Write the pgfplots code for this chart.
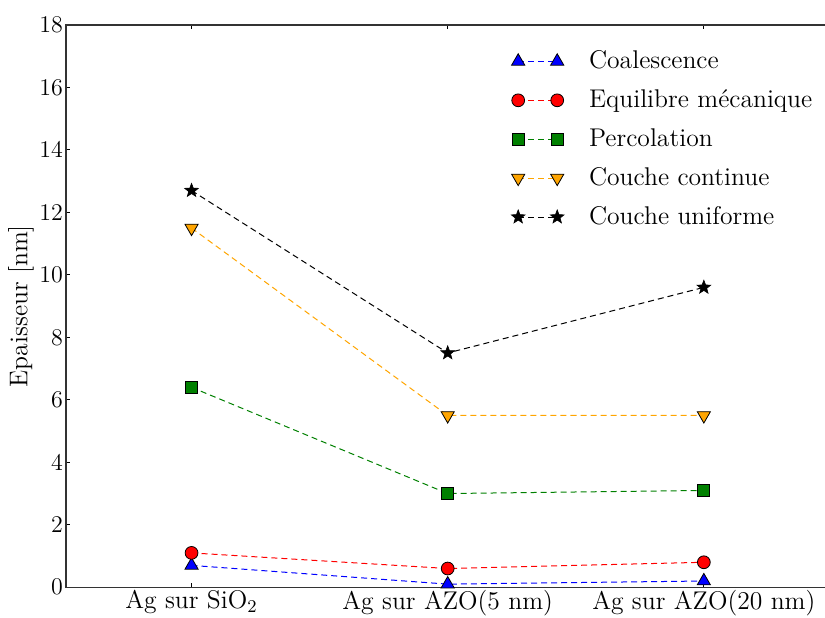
\documentclass[border=0pt]{standalone}
\usepackage{pgfplots}
\pgfplotsset{compat=1.18}
\definecolor{mgreen}{rgb}{0,0.5,0}
\definecolor{morange}{rgb}{1,0.647,0}
\pgfdeclareplotmark{fstar}{%
  \pgfpathmoveto{\pgfqpointpolar{90}{\pgfplotmarksize}}%
  \pgfpathlineto{\pgfqpointpolar{126}{0.42\pgfplotmarksize}}%
  \pgfpathlineto{\pgfqpointpolar{162}{\pgfplotmarksize}}%
  \pgfpathlineto{\pgfqpointpolar{198}{0.42\pgfplotmarksize}}%
  \pgfpathlineto{\pgfqpointpolar{234}{\pgfplotmarksize}}%
  \pgfpathlineto{\pgfqpointpolar{270}{0.42\pgfplotmarksize}}%
  \pgfpathlineto{\pgfqpointpolar{306}{\pgfplotmarksize}}%
  \pgfpathlineto{\pgfqpointpolar{342}{0.42\pgfplotmarksize}}%
  \pgfpathlineto{\pgfqpointpolar{18}{\pgfplotmarksize}}%
  \pgfpathlineto{\pgfqpointpolar{54}{0.42\pgfplotmarksize}}%
  \pgfpathclose
  \pgfusepathqfillstroke}
\begin{document}
\begin{tikzpicture}[font=\fontsize{12.8}{15}\selectfont]
\begin{axis}[
  name=main,
  scale only axis,
  width=381.5pt, height=281pt,
  xmin=-0.49, xmax=2.49,
  ymin=0, ymax=18,
  ytick={0,2,...,18},
  xtick={0,1,2},
  xticklabels={Ag sur SiO$_2$, Ag sur AZO(5 nm), Ag sur AZO(20 nm)},
  tick align=inside,
  major tick length=2pt,
  tick style={black, line width=0.5pt},
  axis line style={line width=0.6pt, black!80},
  ylabel={Epaisseur [nm]},
  ylabel style={yshift=-4pt},
  xticklabel style={yshift=2pt},
  yticklabel style={xshift=2pt},
  clip=false,
  every axis plot/.append style={dash pattern=on 3pt off 2pt, line width=0.5pt},
  legend cell align=left,
  legend style={draw=none, fill=none, at={(rel axis cs:0.575,0.969)}, anchor=north west,
    row sep=5pt, font=\fontsize{12.8}{15}\selectfont,
    /tikz/every odd column/.append style={column sep=10.5pt}},
  legend image code/.code={\draw[#1] plot coordinates {(0pt,0pt) (19.5pt,0pt)};},
]
\coordinate (R) at (axis cs:2.473,0);
\addplot[blue, mark=triangle*, mark size=3.8pt, mark options={solid, fill=blue, draw=black, line width=0.4pt}]
  coordinates {(0,0.7) (1,0.1) (2,0.2)};
\addlegendentry{Coalescence}
\addplot[red, mark=*, mark size=3.2pt, mark options={solid, fill=red, draw=black, line width=0.4pt}]
  coordinates {(0,1.1) (1,0.6) (2,0.8)};
\addlegendentry{Equilibre mécanique}
\addplot[mgreen, mark=square*, mark size=3pt, mark options={solid, fill=mgreen, draw=black, line width=0.4pt}]
  coordinates {(0,6.4) (1,3.0) (2,3.1)};
\addlegendentry{Percolation}
\addplot[morange, mark=triangle*, mark size=3.8pt, mark options={solid, rotate=180, fill=morange, draw=black, line width=0.4pt}]
  coordinates {(0,11.5) (1,5.5) (2,5.5)};
\addlegendentry{Couche continue}
\addplot[black, mark=fstar, mark size=3.6pt, mark options={solid, fill=black, draw=black, line width=0.3pt}]
  coordinates {(0,12.7) (1,7.5) (2,9.6)};
\addlegendentry{Couche uniforme}
\end{axis}
\pgfresetboundingbox
\path[use as bounding box] ([xshift=-33pt,yshift=-15pt]main.south west) rectangle ([yshift=12.5pt]R |- main.north);
\end{tikzpicture}
\end{document}
